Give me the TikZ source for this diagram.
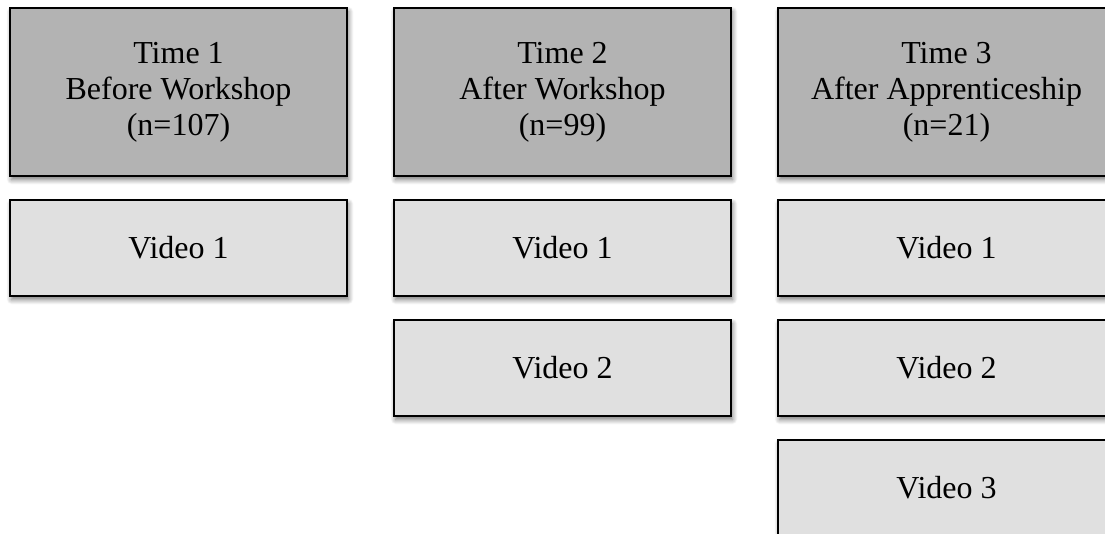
\documentclass[tikz,border=0pt]{standalone}
\usepackage{fontspec}
\setmainfont{Liberation Serif}
\usetikzlibrary{shadows.blur}
\definecolor{hdrgray}{HTML}{B3B3B3}
\definecolor{vidgray}{HTML}{E0E0E0}
\begin{document}
\begin{tikzpicture}[x=1pt,y=-1pt,
  boxbase/.style={draw=black, line width=1.4pt, minimum width=337pt, inner sep=0pt,
    align=center, font=\fontsize{32}{36}\selectfont,
    blur shadow={shadow xshift=1.5pt, shadow yshift=-3.5pt, shadow blur radius=5pt, shadow blur steps=8, shadow opacity=55}},
  hdrbox/.style={boxbase, fill=hdrgray, minimum height=168pt},
  vidbox/.style={boxbase, fill=vidgray, minimum height=96pt}]
\useasboundingbox (0,0) rectangle (1105,533);
\node[hdrbox] (h1) at (178.5,92) {Time 1\\Before Workshop\\(n=107)};
\node[hdrbox] (h2) at (562.5,92) {Time 2\\After Workshop\\(n=99)};
\node[hdrbox] (h3) at (946.5,92) {Time 3\\After Apprenticeship\\(n=21)};
\node[vidbox] (a1) at (178.5,248) {Video 1};
\node[vidbox] (b1) at (562.5,248) {Video 1};
\node[vidbox] (b2) at (562.5,368) {Video 2};
\node[vidbox] (c1) at (946.5,248) {Video 1};
\node[vidbox] (c2) at (946.5,368) {Video 2};
\node[vidbox] (c3) at (946.5,488) {Video 3};
\end{tikzpicture}
\end{document}
